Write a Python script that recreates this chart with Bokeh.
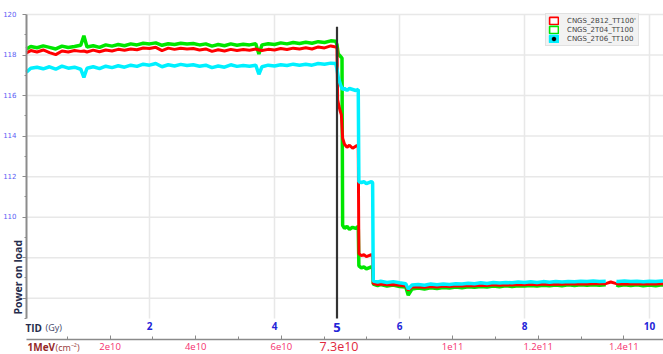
import math
from bokeh.plotting import figure
from bokeh.models import (Range1d, LinearAxis, FixedTicker, Label, Legend,
                          LegendItem)
from bokeh.embed import file_html
from bokeh.resources import INLINE

nan = float("nan")

# ---------------- data ----------------
series_names = ["CNGS_2B12_TT100'", "CNGS_2T04_TT100", "CNGS_2T06_TT100"]

# plateau before the marker (TID in Gy)
tid_plateau = [0.03, 0.1, 0.2, 0.3, 0.4, 0.5, 0.6, 0.7, 0.8, 0.9, 0.95, 1.0,
               1.1, 1.2, 1.3, 1.4, 1.5, 1.6, 1.7, 1.8, 1.9, 2.0, 2.1, 2.2,
               2.3, 2.4, 2.5, 2.6, 2.7, 2.8, 2.9, 3.0, 3.1, 3.2, 3.3, 3.4,
               3.5, 3.6, 3.7, 3.75, 3.8, 3.9, 4.0, 4.1, 4.2, 4.3, 4.4, 4.5,
               4.6, 4.7, 4.8, 4.9, 4.98]
green_plateau = [118.30, 118.42, 118.36, 118.45, 118.38, 118.30, 118.44, 118.37,
                 118.42, 118.48, 118.95, 118.40, 118.46, 118.38, 118.50, 118.44,
                 118.52, 118.46, 118.55, 118.50, 118.58, 118.55, 118.60, 118.48,
                 118.56, 118.52, 118.58, 118.54, 118.57, 118.50, 118.55, 118.44,
                 118.52, 118.46, 118.55, 118.48, 118.53, 118.50, 118.56, 118.05,
                 118.50, 118.56, 118.52, 118.60, 118.55, 118.62, 118.57, 118.63,
                 118.58, 118.66, 118.62, 118.70, 118.68]
red_plateau = [118.10, 118.22, 118.15, 118.25, 118.12, 118.02, 118.20, 118.15,
               118.22, 118.18, 118.20, 118.15, 118.24, 118.16, 118.25, 118.20,
               118.28, 118.24, 118.30, 118.26, 118.35, 118.32, 118.38, 118.22,
               118.34, 118.28, 118.33, 118.30, 118.32, 118.25, 118.30, 118.18,
               118.26, 118.20, 118.28, 118.22, 118.27, 118.24, 118.30, 118.25,
               118.22, 118.28, 118.25, 118.32, 118.27, 118.34, 118.30, 118.36,
               118.30, 118.40, 118.35, 118.45, 118.40]
cyan_plateau = [117.15, 117.35, 117.40, 117.32, 117.42, 117.30, 117.45, 117.35,
                117.40, 117.30, 116.90, 117.35, 117.42, 117.33, 117.45, 117.38,
                117.47, 117.40, 117.50, 117.44, 117.55, 117.50, 117.58, 117.42,
                117.52, 117.46, 117.54, 117.48, 117.52, 117.45, 117.50, 117.38,
                117.46, 117.40, 117.52, 117.44, 117.48, 117.45, 117.50, 117.05,
                117.42, 117.50, 117.46, 117.52, 117.48, 117.55, 117.50, 117.54,
                117.50, 117.58, 117.55, 117.60, 117.58]

# step-down region after the marker
green_step_tid = [5.0, 5.02, 5.05, 5.08, 5.09, 5.12, 5.16, 5.2, 5.25, 5.3, 5.34,
                  5.35, 5.39, 5.43, 5.47, 5.51, 5.55, 5.57]
green_step = [118.5, 118.05, 117.95, 117.85, 109.6, 109.45, 109.55, 109.4, 109.5,
              109.45, 109.55, 107.6, 107.5, 107.55, 107.45, 107.5, 107.55, 107.5]
red_step_tid = [5.0, 5.01, 5.03, 5.05, 5.07, 5.09, 5.12, 5.16, 5.2, 5.25, 5.3,
                5.34, 5.35, 5.39, 5.43, 5.47, 5.51, 5.55, 5.57]
red_step = [118.35, 115.8, 115.5, 115.25, 115.05, 113.9, 113.6, 113.45, 113.55,
            113.4, 113.5, 113.55, 108.2, 108.1, 108.15, 108.05, 108.1, 108.15, 108.1]
cyan_step_tid = [5.0, 5.02, 5.04, 5.06, 5.09, 5.12, 5.16, 5.2, 5.25, 5.3, 5.34,
                 5.35, 5.39, 5.43, 5.47, 5.51, 5.55, 5.57]
cyan_step = [117.3, 116.9, 116.7, 116.5, 116.3, 116.35, 116.25, 116.35, 116.3,
             116.25, 116.3, 111.75, 111.7, 111.75, 111.65, 111.7, 111.75, 111.7]

# final level
tid_tail = [5.58, 5.65, 5.7, 5.8, 5.9, 6.0, 6.1, 6.14, 6.2, 6.3, 6.4, 6.5, 6.6,
            6.7, 6.8, 6.9, 7.0, 7.1, 7.2, 7.3, 7.4, 7.5, 7.6, 7.7, 7.8, 7.9,
            8.0, 8.1, 8.2, 8.3, 8.4, 8.5, 8.6, 8.7, 8.8, 8.9, 9.0, 9.1, 9.2,
            9.3, 9.38, 9.47, 9.5, 9.6, 9.7, 9.8, 9.9, 10.0, 10.1, 10.2, 10.3]
green_tail = [106.70, 106.62, 106.68, 106.60, 106.65, 106.58, 106.55, 106.15,
              106.45, 106.50, 106.46, 106.52, 106.48, 106.53, 106.50, 106.55,
              106.52, 106.57, 106.54, 106.58, 106.55, 106.60, 106.57, 106.61,
              106.58, 106.62, 106.60, 106.63, 106.60, 106.64, 106.61, 106.65,
              106.62, 106.66, 106.63, 106.66, 106.64, 106.67, 106.64, 106.66,
              nan, 106.66, 106.62, 106.66, 106.63, 106.66, 106.62, 106.65,
              106.62, 106.66, 106.64]
red_tail = [106.72, 106.68, 106.70, 106.66, 106.68, 106.64, 106.60, 106.40,
            106.55, 106.56, 106.54, 106.58, 106.55, 106.60, 106.58, 106.62,
            106.60, 106.63, 106.62, 106.64, 106.63, 106.66, 106.64, 106.67,
            106.65, 106.68, 106.66, 106.69, 106.67, 106.70, 106.68, 106.70,
            106.69, 106.71, 106.70, 106.72, 106.70, 106.72, 106.71, 106.72,
            106.80, 106.72, 106.70, 106.72, 106.70, 106.72, 106.70, 106.72,
            106.70, 106.72, 106.71]
cyan_tail = [106.85, 106.80, 106.84, 106.78, 106.82, 106.76, 106.72, 106.45,
             106.65, 106.68, 106.64, 106.70, 106.66, 106.70, 106.68, 106.72,
             106.70, 106.74, 106.72, 106.76, 106.73, 106.78, 106.75, 106.78,
             106.76, 106.80, 106.78, 106.81, 106.78, 106.82, 106.79, 106.83,
             106.80, 106.83, 106.81, 106.84, 106.82, 106.85, 106.82, 106.84,
             nan, 106.84, 106.82, 106.85, 106.82, 106.84, 106.81, 106.84,
             106.82, 106.85, 106.83]

# axes
y_ticks = [106, 108, 110, 112, 114, 116, 118, 120]
y_minor = [105, 107, 109, 111, 113, 115, 117, 119]
y_hidden_labels = [106, 108]
tid_ticks = [2, 4, 6, 8, 10]
marker_tid = 5
marker_top = 119.4
flu_ticks = [2e10, 4e10, 6e10, 1e11, 1.2e11, 1.4e11]
flu_tick_labels = ["2e10", "4e10", "6e10", "1e11", "1.2e11", "1.4e11"]
flu_minor = [1e10, 3e10, 5e10, 7e10, 8e10, 9e10, 1.1e11, 1.3e11]
marker_flu_label = "7.3e10"
gy_to_flu = 7.3e10 / 5
tid_start, tid_end = 0.032, 10.224
y_start, y_end = 105, 120

# ---------------- layout (pixels of the 663x354 page) ----------------
W, H = 663, 354
TID0_PX = 24.0          # page x of TID = 0
PX_PER_GY = 62.5
YTOP_PX = 14.0          # page y of y_end
PX_PER_UNIT = 304.0 / 15.0


def gx(px):
    return (px - TID0_PX) / PX_PER_GY


def gy(py):
    return y_end - (py - YTOP_PX) / PX_PER_UNIT


p = figure(width=W, height=H, output_backend="svg", toolbar_location=None,
           x_range=Range1d(gx(0), gx(W)), y_range=Range1d(gy(H), gy(0)),
           x_axis_location=None, y_axis_location=None,
           min_border=0, min_border_left=0, min_border_right=0,
           min_border_top=0, min_border_bottom=0)
p.outline_line_color = None
p.background_fill_color = "white"
p.border_fill_color = "white"
p.grid.visible = False

GRID = "#e8e8e8"
# grid lines (bounded to the data frame)
p.segment(x0=[tid_start] * len(y_ticks), y0=y_ticks,
          x1=[tid_end] * len(y_ticks), y1=y_ticks,
          line_color=GRID, line_width=1.5)
p.segment(x0=tid_ticks, y0=[y_start] * len(tid_ticks),
          x1=tid_ticks, y1=[y_end] * len(tid_ticks),
          line_color=GRID, line_width=1.5)

GREEN, RED, CYAN = "#00e600", "#ff0000", "#00f0ff"

p.line(tid_plateau + green_step_tid + tid_tail, green_plateau + green_step + green_tail,
       line_color=GREEN, line_width=3.5)
p.line(tid_plateau + red_step_tid + tid_tail, red_plateau + red_step + red_tail,
       line_color=RED, line_width=3.0)
p.line(tid_plateau + cyan_step_tid + tid_tail, cyan_plateau + cyan_step + cyan_tail,
       line_color=CYAN, line_width=3.5)

# marker line at 5 Gy
p.segment(x0=[marker_tid], y0=[y_start], x1=[marker_tid], y1=[marker_top],
          line_color="#333333", line_width=2.2)

# y axis
ya = LinearAxis(fixed_location=tid_start, bounds=(y_start, y_end),
                ticker=FixedTicker(ticks=y_ticks, minor_ticks=y_minor))
ya.major_label_overrides = {t: " " for t in y_hidden_labels}
ya.axis_line_color = "#8c8c8c"
ya.axis_line_width = 2
ya.major_tick_line_color = "#8c8c8c"
ya.minor_tick_line_color = "#8c8c8c"
ya.major_tick_out = 4
ya.major_tick_in = 0
ya.minor_tick_out = 2
ya.minor_tick_in = 0
ya.major_label_standoff = 6
ya.major_label_text_font = "DejaVu Sans"
ya.major_label_text_font_size = "7px"
ya.major_label_text_color = "#5b5bf5"
p.add_layout(ya, "left")

# TID axis (labels only)
xa = LinearAxis(fixed_location=y_start, bounds=(tid_start, tid_end),
                ticker=FixedTicker(ticks=tid_ticks))
xa.axis_line_color = None
xa.major_tick_line_color = None
xa.minor_tick_line_color = None
xa.major_tick_out = 0
xa.major_tick_in = 0
xa.minor_tick_out = 0
xa.minor_tick_in = 0
xa.major_label_standoff = 3
xa.major_label_text_font = "Open Sans"
xa.major_label_text_font_style = "bold"
xa.major_label_text_font_size = "10px"
xa.major_label_text_color = "#2424d8"
p.add_layout(xa, "below")

# fluence axis
p.extra_x_ranges = {"flu": Range1d(gx(0) * gy_to_flu, gx(W) * gy_to_flu)}
fa = LinearAxis(x_range_name="flu", fixed_location=gy(339),
                bounds=(tid_start * gy_to_flu, tid_end * gy_to_flu),
                ticker=FixedTicker(ticks=flu_ticks, minor_ticks=flu_minor))
fa.major_label_overrides = {t: s for t, s in zip(flu_ticks, flu_tick_labels)}
fa.axis_line_color = "#8a8a8a"
fa.axis_line_width = 1.5
fa.major_tick_line_color = "#8a8a8a"
fa.minor_tick_line_color = "#8a8a8a"
fa.major_tick_in = 4
fa.major_tick_out = 0
fa.minor_tick_in = 3
fa.minor_tick_out = 0
fa.major_label_standoff = 3
fa.major_label_text_font = "Open Sans"
fa.major_label_text_font_size = "9.5px"
fa.major_label_text_color = "#f5306e"
p.add_layout(fa, "below")

# texts around the frame
def add_text(px, py, text, size, color, bold=False, align="left", angle=0.0,
             font="Open Sans"):
    p.add_layout(Label(x=gx(px), y=gy(py), text=text, angle=angle,
                       text_align=align, text_baseline="middle",
                       text_font=font, text_font_style="bold" if bold else "normal",
                       text_font_size=size, text_color=color))


add_text(17, 314, "Power on load", "10.5px", "#262c4c", bold=True, angle=math.pi / 2)
add_text(25, 327, "TID", "10px", "#262c4c", bold=True)
add_text(45, 327, "(Gy)", "9px", "#3e4466")
add_text(TID0_PX + marker_tid * PX_PER_GY, 327, str(marker_tid), "13px", "#2424d8",
         bold=True, align="center")
add_text(27, 346.5, "1MeV", "10px", "#962a2a", bold=True)
add_text(55, 346.5, "(cm\u207b\u00b2)", "9px", "#963a3a")
add_text(TID0_PX + marker_tid * PX_PER_GY + 2, 345.5, marker_flu_label, "12.5px",
         "#e0283c", align="center")

# legend (square swatches)
sw_r = p.quad(left=[nan], right=[nan], top=[nan], bottom=[nan], fill_color="white",
              line_color=RED, line_width=1.6)
sw_g = p.quad(left=[nan], right=[nan], top=[nan], bottom=[nan], fill_color="white",
              line_color=GREEN, line_width=1.6)
sw_c = p.quad(left=[nan], right=[nan], top=[nan], bottom=[nan], fill_color=CYAN,
              line_color=CYAN, line_width=1.6)
dot_c = p.scatter(x=[nan], y=[nan], marker="circle", fill_color="black",
                  line_color="black")
legend = Legend(items=[LegendItem(label=series_names[0], renderers=[sw_r]),
                       LegendItem(label=series_names[1], renderers=[sw_g]),
                       LegendItem(label=series_names[2], renderers=[sw_c, dot_c])],
                location=(545, H - 46))
legend.glyph_width = 11
legend.glyph_height = 9
legend.label_height = 9
legend.label_standoff = 8
legend.spacing = 0
legend.padding = 2
legend.margin = 0
legend.label_text_font = "DejaVu Sans"
legend.label_text_font_size = "7px"
legend.label_text_color = "#444444"
legend.background_fill_color = "#f2f2f2"
legend.background_fill_alpha = 1
legend.border_line_color = "#d0d0d0"
p.add_layout(legend)

open("out.html", "w").write(file_html(p, INLINE))
